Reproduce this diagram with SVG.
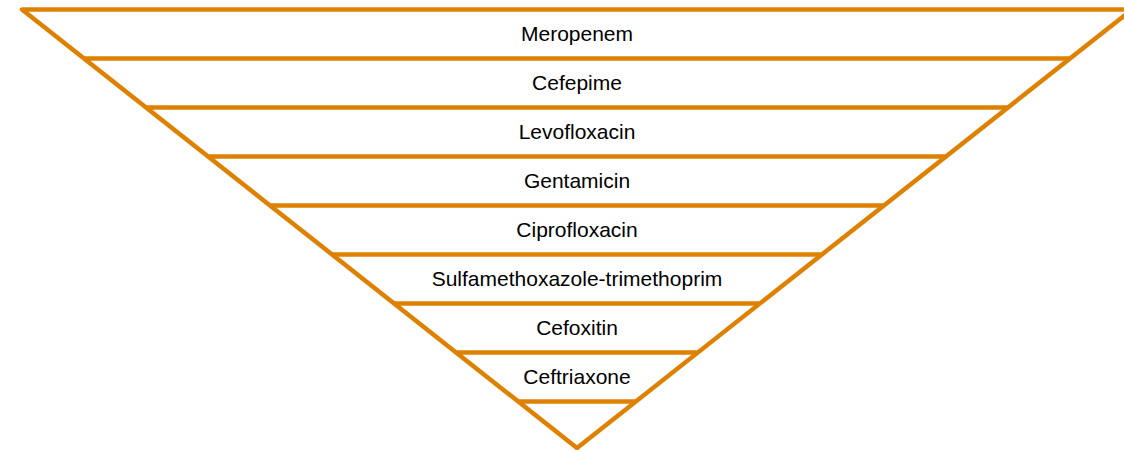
<svg xmlns="http://www.w3.org/2000/svg" width="1124" height="450" viewBox="0 0 1124 450">
<style>
.ln{stroke:#DF8100;stroke-width:4.5;fill:none;stroke-linejoin:round;stroke-linecap:butt}
.lb{font-family:"Liberation Sans",Arial,sans-serif;font-size:21px;fill:#000;text-anchor:middle}
</style>
<rect width="1124" height="450" fill="#fff"/>
<g id="connectors">
<path class="ln" d="M22 9.5 L1132 9.5 L577 448 Z"/>
<path class="ln" d="M84.4 58.5H1069.6M146.4 107.5H1007.6M208.4 156.5H945.6M270.3 205.5H883.7M332.3 254.5H821.7M394.3 303.5H759.7M456.2 352.5H697.8M518.2 401.5H635.8"/>
</g>
<g id="n1"><text class="lb" x="577" y="41">Meropenem</text></g>
<g id="n2"><text class="lb" x="577" y="90">Cefepime</text></g>
<g id="n3"><text class="lb" x="577" y="139">Levofloxacin</text></g>
<g id="n4"><text class="lb" x="577" y="188">Gentamicin</text></g>
<g id="n5"><text class="lb" x="577" y="237">Ciprofloxacin</text></g>
<g id="n6"><text class="lb" x="577" y="286">Sulfamethoxazole-trimethoprim</text></g>
<g id="n7"><text class="lb" x="577" y="335">Cefoxitin</text></g>
<g id="n8"><text class="lb" x="577" y="384">Ceftriaxone</text></g>
</svg>
